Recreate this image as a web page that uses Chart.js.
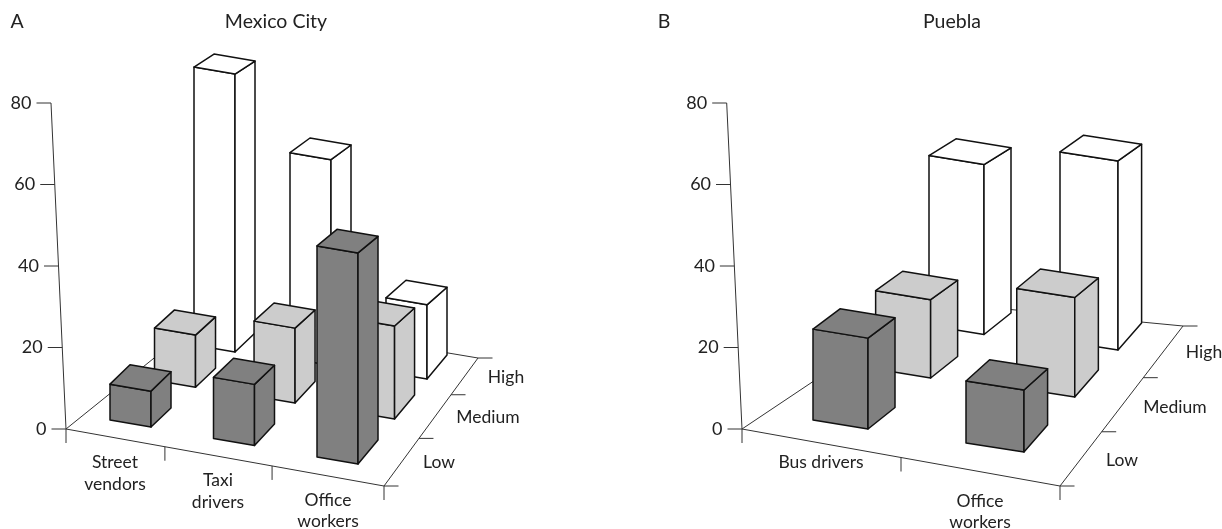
<!DOCTYPE html>
<html>
<head>
<meta charset="utf-8">
<title>Mexico City and Puebla</title>
<script src="https://cdn.jsdelivr.net/npm/chart.js@4/dist/chart.umd.min.js"></script>
<style>
  html, body { margin: 0; padding: 0; background: #fff; }
  #wrap { display: flex; width: 1222px; height: 529px; }
  canvas { display: block; }
</style>
</head>
<body>
<div id="wrap">
  <canvas id="chartA" width="611" height="529"></canvas>
  <canvas id="chartB" width="611" height="529"></canvas>
</div>
<script>
// ===============================
// DATA
// ===============================
const levels = ["Low", "Medium", "High"];
const yTicks = [0, 20, 40, 60, 80];

const mexicoCategories = ["Street vendors", "Taxi drivers", "Office workers"];
const mexicoLow = [8.8, 15, 51.8];
const mexicoMedium = [12.8, 18.4, 22.8];
const mexicoHigh = [68.2, 50.5, 18.2];

const pueblaCategories = ["Bus drivers", "Office workers"];
const pueblaLow = [22.3, 15.2];
const pueblaMedium = [19.2, 24.4];
const pueblaHigh = [41.7, 46.4];

// ===============================
// PANEL LAYOUT (page pixels)
// ===============================
const panelA = {
  canvasLeft: 0,
  letter: "A", letterX: 17,
  title: "Mexico City", titleX: 276,
  axisTopX: 51, axisBottomX: 66,
  floor: { front: [66, 429], right: [384, 486], back: [478, 358], corner: [210, 313] },
  catTicks: [0.311, 0.648],
  depthTicks: [0.372, 0.713],
  grid: { low: [[110, 420], [317, 457]], high: [[194, 345], [386, 372]], rows: [0, 0.53, 1] },
  bar: { width: [41, 41], slope: 7, depthL: [20, -19], depthR: [20, -24], topDepth: 11.5 },
  catLabels: [[115, 462, 484], [218, 480, 502], [328, 500, 521]],
  depthLabels: [[439, 462], [488, 417], [506, 377]]
};

const panelB = {
  canvasLeft: 611,
  letter: "B", letterX: 664,
  title: "Puebla", titleX: 952,
  axisTopX: 726.7, axisBottomX: 742,
  floor: { front: [742, 429], right: [1060, 486], back: [1183, 326], corner: [932, 302] },
  catTicks: [0.5],
  depthTicks: [0.339, 0.677],
  grid: { low: [[813, 420], [966, 443]], high: [[929, 325.5], [1060, 341]], rows: [0, 0.54, 1] },
  bar: { width: [55, 58], slope: 9, depthL: [27, -21.5], depthR: [23.6, -27], topDepth: 13.5 },
  catLabels: [[821, 462], [980, 501, 522]],
  depthLabels: [[1122, 460], [1175, 407], [1204, 352]]
};

const colors = { Low: "#808080", Medium: "#cccccc", High: "#ffffff" };
const titleFont = '19.5px Lato, "Open Sans", sans-serif';
const tickFont = '18px Lato, "Open Sans", sans-serif';
const labelFont = '17.5px Lato, "Open Sans", sans-serif';
const inkColor = "#222";
const axisColor = "#333";
const edgeColor = "#111";

function lerp(a, b, t) {
  return a + (b - a) * t;
}

function line(ctx, x1, y1, x2, y2) {
  ctx.beginPath();
  ctx.moveTo(x1, y1);
  ctx.lineTo(x2, y2);
  ctx.stroke();
}

function pointOn(a, b, t) {
  return [lerp(a[0], b[0], t), lerp(a[1], b[1], t)];
}

// ===============================
// 3D DRAWING PLUGIN
// ===============================
function drawAxes(chart, panel, ctx) {
  const scale = chart.scales.y;
  const top = scale.getPixelForValue(scale.max);
  const bottom = scale.getPixelForValue(scale.min);

  ctx.strokeStyle = axisColor;
  ctx.lineWidth = 1;

  // leaning value axis
  line(ctx, panel.axisTopX, top, panel.axisBottomX, bottom);
  line(ctx, panel.axisBottomX, bottom, panel.axisBottomX, bottom + 14);

  ctx.fillStyle = inkColor;
  ctx.font = tickFont;
  ctx.textAlign = "right";
  ctx.textBaseline = "middle";
  scale.ticks.forEach(tick => {
    const y = scale.getPixelForValue(tick.value);
    const x = lerp(panel.axisTopX, panel.axisBottomX, (y - top) / (bottom - top));
    line(ctx, x - 14.5, y, x, y);
    ctx.fillText(String(tick.value), x - 19.5, y);
  });

  // floor outline
  const f = panel.floor;
  ctx.beginPath();
  ctx.moveTo(f.corner[0], f.corner[1]);
  ctx.lineTo(f.front[0], f.front[1]);
  ctx.lineTo(f.right[0], f.right[1]);
  ctx.lineTo(f.back[0], f.back[1]);
  ctx.lineTo(f.corner[0], f.corner[1]);
  ctx.stroke();

  // category ticks along the front edge
  panel.catTicks.concat([1]).forEach(t => {
    const p = pointOn(f.front, f.right, t);
    line(ctx, p[0], p[1], p[0], p[1] + 14);
  });

  // level ticks along the right edge
  panel.depthTicks.concat([0, 1]).forEach(t => {
    const p = pointOn(f.right, f.back, t);
    line(ctx, p[0], p[1], p[0] + 14.5, p[1]);
  });
}

function floorPoint(panel, col, row, cols) {
  const g = panel.grid;
  const u = cols > 1 ? col / (cols - 1) : 0;
  const front = pointOn(g.low[0], g.low[1], u);
  const rear = pointOn(g.high[0], g.high[1], u);
  return pointOn(front, rear, g.rows[row]);
}

function drawBar(ctx, panel, col, cols, fl, height, fill) {
  const b = panel.bar;
  const u = cols > 1 ? col / (cols - 1) : 0;
  const width = lerp(b.width[0], b.width[1], u);
  const depth = pointOn(b.depthL, b.depthR, u);

  const fr = [fl[0] + width, fl[1] + b.slope];
  const br = [fr[0] + depth[0], fr[1] + depth[1]];

  // the top face looks flatter the higher it sits
  const topFL = [fl[0], fl[1] - height];
  const topFR = [fr[0], fr[1] - height];
  const topDepthY = b.topDepth + 0.02 * topFR[1];
  const topBR = [topFR[0] + depth[0], topFR[1] - topDepthY];
  const topBL = [topFL[0] + depth[0], topFL[1] - topDepthY];

  ctx.fillStyle = fill;
  ctx.strokeStyle = edgeColor;
  ctx.lineWidth = 1.5;
  ctx.lineJoin = "round";

  [[fl, fr, topFR, topFL], [fr, br, topBR, topFR], [topFL, topFR, topBR, topBL]].forEach(face => {
    ctx.beginPath();
    ctx.moveTo(face[0][0], face[0][1]);
    for (let i = 1; i < face.length; i++) {
      ctx.lineTo(face[i][0], face[i][1]);
    }
    ctx.closePath();
    ctx.fill();
    ctx.stroke();
  });
}

function drawLabels(chart, panel, ctx) {
  ctx.fillStyle = inkColor;
  ctx.textBaseline = "middle";
  ctx.textAlign = "center";

  ctx.font = titleFont;
  ctx.fillText(panel.letter, panel.letterX, 22);
  ctx.fillText(panel.title, panel.titleX, 22);

  ctx.font = labelFont;
  chart.data.labels.forEach((name, i) => {
    const place = panel.catLabels[i];
    const words = place.length > 2 ? name.split(" ") : [name];
    words.forEach((word, w) => ctx.fillText(word, place[0], place[w + 1]));
  });

  levels.forEach((name, i) => {
    ctx.fillText(name, panel.depthLabels[i][0], panel.depthLabels[i][1]);
  });
}

const bars3d = {
  id: "bars3d",
  afterDraw(chart, args, opts) {
    const panel = opts.panel;
    const ctx = chart.ctx;
    ctx.save();
    ctx.translate(-panel.canvasLeft, 0);

    drawAxes(chart, panel, ctx);

    // back row first, so nearer bars cover it
    const cols = chart.data.labels.length;
    for (let row = levels.length - 1; row >= 0; row--) {
      const meta = chart.getDatasetMeta(row);
      meta.data.forEach((el, col) => {
        const height = el.base - el.y;
        const fl = floorPoint(panel, col, row, cols);
        drawBar(ctx, panel, col, cols, fl, height, colors[levels[row]]);
      });
    }

    drawLabels(chart, panel, ctx);
    ctx.restore();
  }
};

// ===============================
// CHARTS
// ===============================
function makeChart(canvasId, panel, categories, low, medium, high) {
  const values = [low, medium, high];
  return new Chart(document.getElementById(canvasId), {
    type: "bar",
    data: {
      labels: categories,
      datasets: levels.map((name, i) => ({
        label: name,
        data: values[i],
        backgroundColor: "rgba(0,0,0,0)",
        borderWidth: 0
      }))
    },
    options: {
      responsive: false,
      animation: false,
      layout: { padding: { top: 103, bottom: 100 } },
      scales: {
        x: { display: false },
        y: {
          min: yTicks[0],
          max: yTicks[yTicks.length - 1],
          grid: { display: false },
          border: { display: false },
          ticks: { stepSize: yTicks[1] - yTicks[0], display: false }
        }
      },
      plugins: {
        legend: { display: false },
        tooltip: { enabled: false },
        bars3d: { panel: panel }
      }
    },
    plugins: [bars3d]
  });
}

makeChart("chartA", panelA, mexicoCategories, mexicoLow, mexicoMedium, mexicoHigh);
makeChart("chartB", panelB, pueblaCategories, pueblaLow, pueblaMedium, pueblaHigh);
</script>
</body>
</html>
